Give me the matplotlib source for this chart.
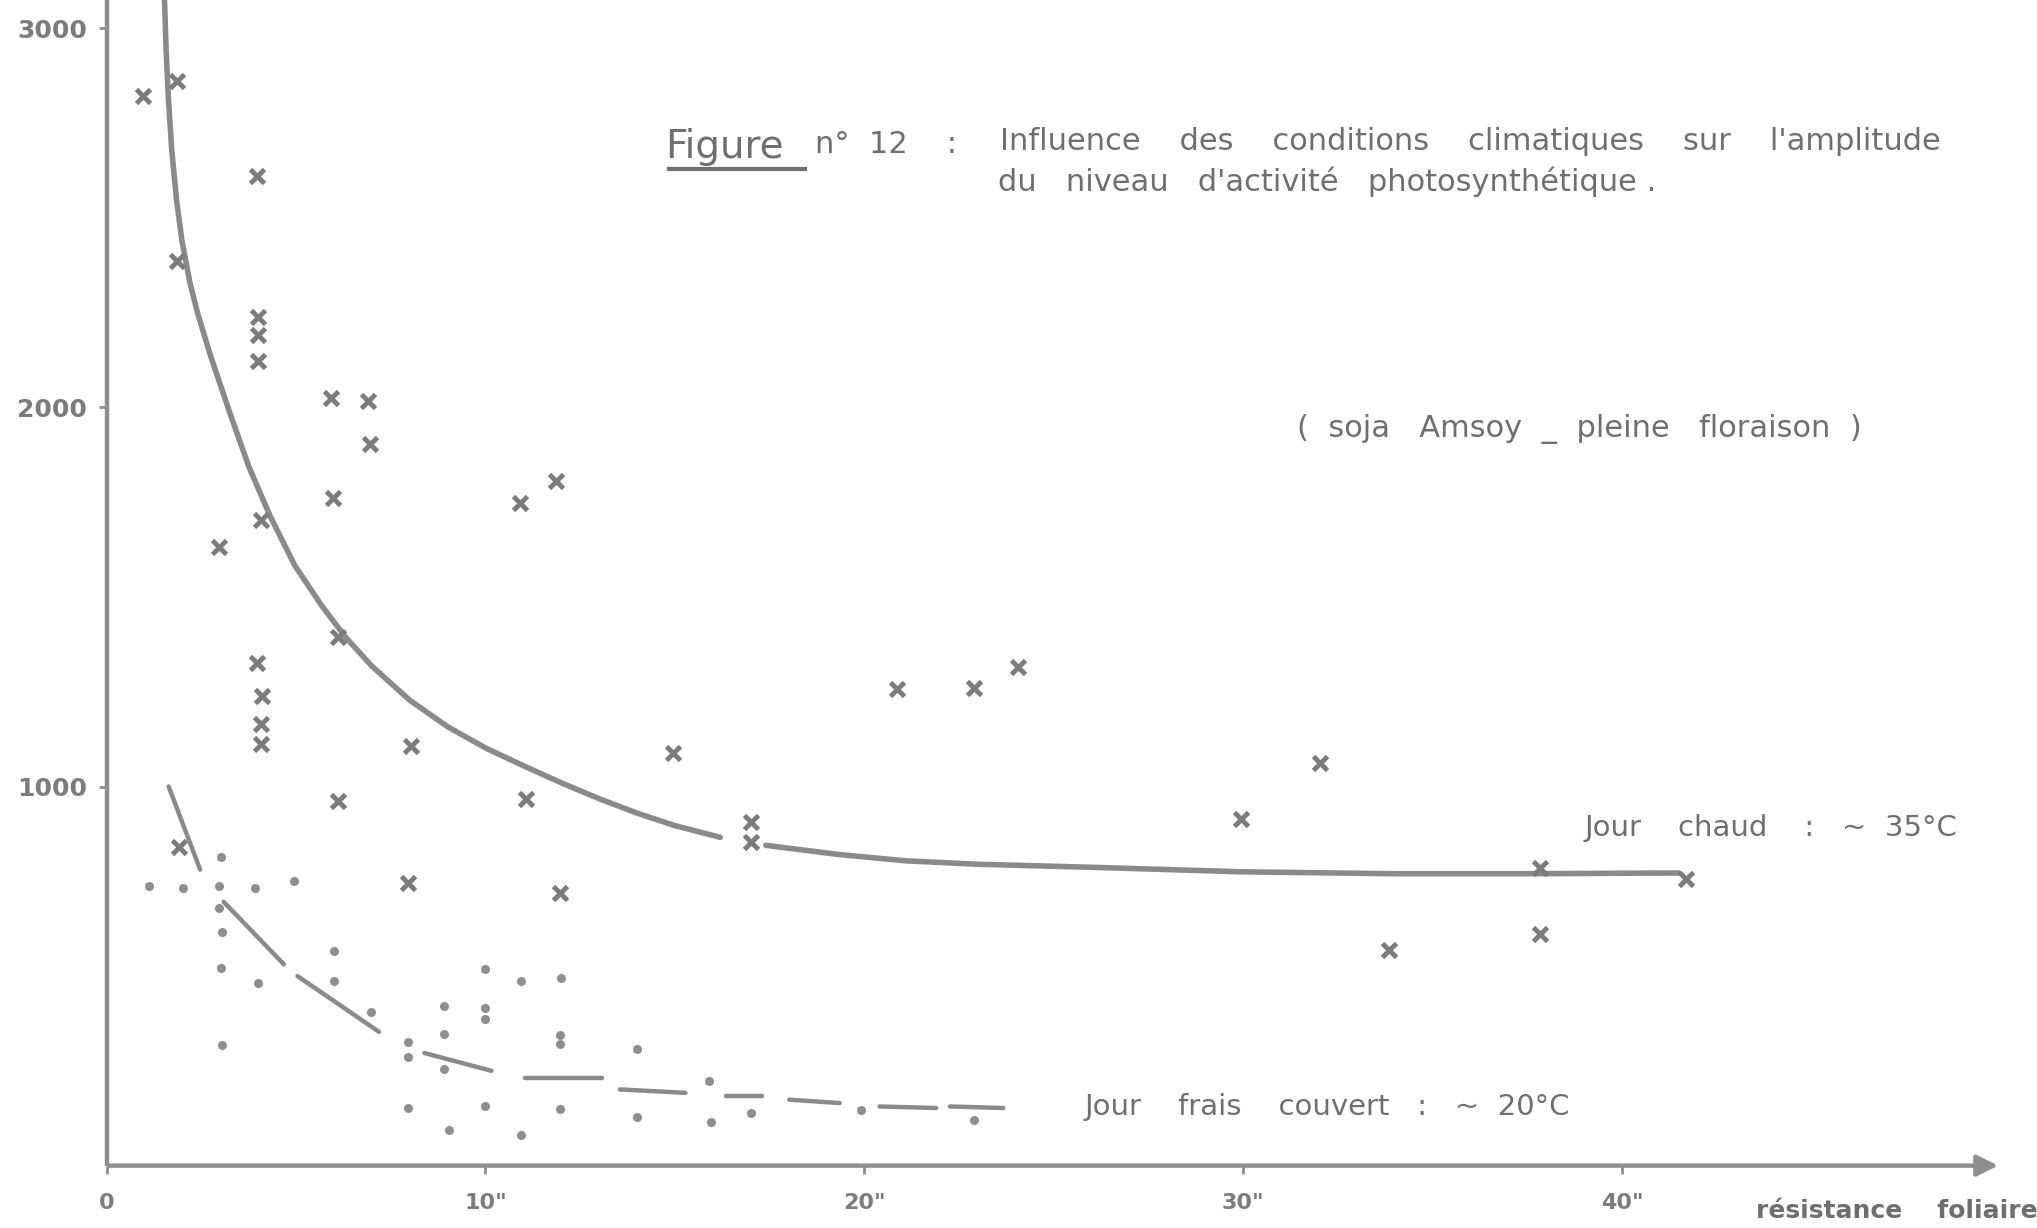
import matplotlib.pyplot as plt
from matplotlib.lines import Line2D

# jour chaud (~35 C) : croix
chaud_x = [0.96, 1.85, 3.98, 1.85, 4.0, 4.0, 4.0, 5.93, 6.9, 6.96, 5.97, 4.08, 2.98,
           10.9, 11.87, 6.1, 3.98, 4.1, 4.08, 4.08, 8.03, 6.1, 11.08, 14.96, 17.0,
           17.0, 7.96, 11.97, 20.86, 22.9, 24.05, 32.04, 29.95, 33.86, 37.84,
           37.84, 41.7, 1.9]
chaud_y = [2822, 2860, 2610, 2387, 2240, 2190, 2123, 2024, 2017, 1904, 1760, 1702, 1633,
           1747, 1805, 1394, 1325, 1240, 1164, 1113, 1106, 962, 968, 1089, 907,
           853, 745, 718, 1257, 1260, 1315, 1062, 914, 568, 610,
           784, 757, 840]

# jour frais couvert (~20 C) : points
frais_x = [1.11, 2.03, 2.97, 3.02, 3.92, 4.95, 2.97, 3.04, 3.02, 4.01, 3.06, 6.0,
           6.0, 6.98, 7.95, 7.95, 8.92, 8.92, 8.92, 9.98, 9.98, 9.98, 10.95, 12.0,
           11.96, 11.96, 7.95, 9.03, 9.98, 10.95, 11.96, 13.99, 13.99, 15.9, 15.95,
           17.0, 19.9, 22.9]
frais_y = [737, 732, 737, 814, 732, 750, 679, 616, 522, 482, 317, 567,
           487, 406, 326, 286, 420, 348, 254, 518, 415, 388, 487, 496,
           344, 321, 152, 94, 158, 80, 149, 308, 129, 223, 116,
           140, 147, 121]

# courbe du jour chaud (trait continu, coupe vers 17")
courbe_chaud_x = [1.53, 1.57, 1.63, 1.72, 1.85, 1.99, 2.2, 2.4, 2.75, 3.26, 3.76, 4.32,
                  4.97, 5.68, 6.3, 7.0, 8.0, 9.0, 10.0, 11.0, 12.0, 13.0, 14.0, 15.0, 16.2]
courbe_chaud_y = [3075, 2950, 2820, 2680, 2545, 2440, 2330, 2250, 2135, 1984, 1843, 1713,
                  1583, 1477, 1395, 1318, 1228, 1158, 1102, 1055, 1010, 968, 930, 897, 866]
suite_chaud_x = [17.4, 19.3, 21.1, 23.0, 26.0, 30.0, 34.0, 37.5, 41.5]
suite_chaud_y = [845, 821, 804, 795, 787, 775, 770, 770, 772]

# courbe du jour frais : tirets (debut, fin) de chaque trait
tirets_frais_x = [1.64, 2.47, 3.09, 4.68, 5.04, 7.19, 8.39, 10.16, 11.04, 13.07,
                  13.55, 15.28, 16.34, 17.31, 18.02, 19.35, 20.4, 21.9, 22.26, 23.67]
tirets_frais_y = [1000, 781, 696, 531, 500, 353, 297, 250, 232, 232,
                  201, 192, 183, 183, 174, 165, 156, 152, 156, 152]

ticks_x = [0, 10, 20, 30, 40]
labels_x = ['0', '10"', '20"', '30"', '40"']
ticks_y = [1000, 2000, 3000]
labels_y = ['1000', '2000', '3000']

gris = '#7c7c7c'
gris_clair = '#8e8e8e'
encre = '#6f6f6f'

fig = plt.figure(figsize=(20.37, 12.28), dpi=100)
ax = fig.add_axes([0.0523, 0.0508, 0.93, 0.9492])
ax.set_xlim(0, 50)
ax.set_ylim(0, 3075)
for s in ax.spines.values():
    s.set_visible(False)

# axes traces a la main
ax.plot([0, 0], [0, 3075], color=gris_clair, lw=3.2, clip_on=False, solid_capstyle='butt')
ax.annotate('', xy=(50, 0), xytext=(0, 0),
            arrowprops=dict(arrowstyle='-|>', lw=3.2, color=gris_clair, mutation_scale=32),
            annotation_clip=False)

ax.set_xticks(ticks_x)
ax.set_xticklabels(labels_x)
ax.set_yticks(ticks_y)
ax.set_yticklabels(labels_y)
ax.tick_params(axis='both', colors=gris_clair, length=6, width=2, direction='out')
ax.tick_params(axis='x', pad=14, labelsize=16, labelcolor=gris)
ax.tick_params(axis='y', pad=8, labelsize=18, labelcolor=gris)
for lab in ax.get_xticklabels() + ax.get_yticklabels():
    lab.set_fontweight('bold')

# courbes
ax.plot(courbe_chaud_x, courbe_chaud_y, color='#8a8a8a', lw=4, solid_capstyle='round',
        solid_joinstyle='round', clip_on=False)
ax.plot(suite_chaud_x, suite_chaud_y, color='#8a8a8a', lw=4, solid_capstyle='round')
for i in range(0, len(tirets_frais_x), 2):
    ax.plot(tirets_frais_x[i:i + 2], tirets_frais_y[i:i + 2], color='#8a8a8a', lw=3.2,
            solid_capstyle='round')

# mesures
ax.plot(chaud_x, chaud_y, 'x', color=gris, ms=10, mew=3.5, linestyle='none')
ax.plot(frais_x, frais_y, 'o', color=gris_clair, ms=6.5, mec='none', linestyle='none')

# textes
txt = dict(color=encre, fontsize=22, va='center', ha='left')
fig.text(512 / 1568, 1 - 113 / 945, 'Figure', color=encre, fontsize=28, va='center', ha='left')
fig.add_artist(Line2D([515 / 1568, 620 / 1568], [1 - 130 / 945, 1 - 130 / 945],
                      color=encre, lw=3))
fig.text(627 / 1568, 1 - 111 / 945, 'n°  12    :', **txt)
fig.text(770 / 1568, 1 - 109 / 945,
         'Influence    des    conditions    climatiques    sur    l\'amplitude', **txt)
fig.text(768 / 1568, 1 - 140 / 945,
         'du   niveau   d\'activité   photosynthétique .', **txt)
fig.text(998 / 1568, 1 - 330 / 945, '(  soja   Amsoy  _  pleine   floraison  )', **txt)
fig.text(1220 / 1568, 1 - 637 / 945, 'Jour    chaud    :   ~  35°C',
         color=encre, fontsize=21, va='center', ha='left')
fig.text(835 / 1568, 1 - 852 / 945, 'Jour    frais    couvert   :   ~  20°C',
         color=encre, fontsize=21, va='center', ha='left')
fig.text(1352 / 1568, 1 - 932 / 945, 'résistance    foliaire',
         color=encre, fontsize=18, fontweight='bold', va='center', ha='left')

fig.savefig('out.png', dpi=100, facecolor='white')
